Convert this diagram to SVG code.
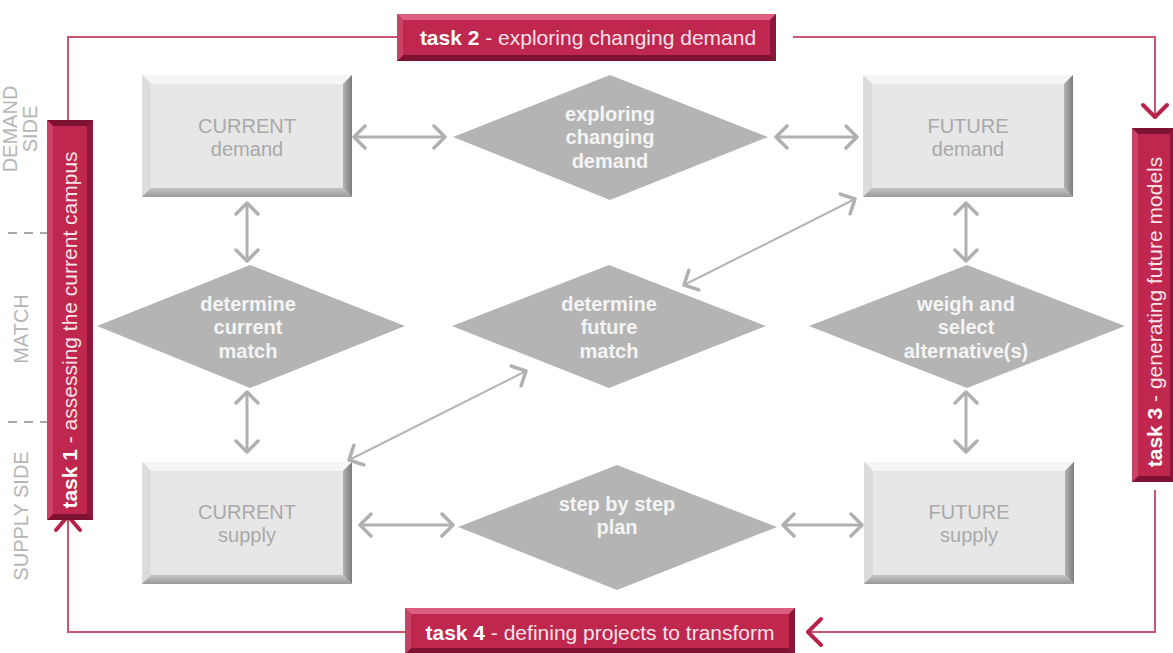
<svg xmlns="http://www.w3.org/2000/svg" xmlns:xlink="http://www.w3.org/1999/xlink" width="1173" height="653" viewBox="0 0 1173 653">
  <style>
    .lbl { font-family: "Liberation Sans", Arial, sans-serif; }
    .side { font-size: 20px; fill: #b5b5b5; }
    .boxtxt { font-size: 20px; fill: #a9a9a9; text-anchor: middle; }
    .dtxt { font-size: 20px; font-weight: bold; fill: #f4f4f4; text-anchor: middle; }
    .ttxt { font-size: 21px; fill: #f6e3e8; text-anchor: middle; }
    .ttxt tspan.b { font-weight: bold; fill: #ffffff; }
    .diamond { fill: #b4b4b4; }
    .garrow { fill: none; stroke: #b0b0b0; stroke-width: 3; marker-start: url(#gh); marker-end: url(#gh); }
    .gthin { fill: none; stroke: #b4b4b4; stroke-width: 2; marker-start: url(#gh); marker-end: url(#gh); }
    .rline { fill: none; stroke: #c9566f; stroke-width: 2; }
    .rhead { fill: none; stroke: #b8234a; stroke-width: 4; stroke-linecap: round; stroke-linejoin: round; }
    .dash { stroke: #a8a8a8; stroke-width: 2; stroke-dasharray: 9 7; }
    .bt { fill: #dc5f80; }
    .bb { fill: #7e1232; }
    .bl { fill: #c94366; }
    .br { fill: #8d1739; }
    .bf { fill: #c0274f; }
  </style>
  <defs>
    <linearGradient id="rgrad" x1="0" y1="0" x2="1" y2="0">
      <stop offset="0" stop-color="#b4b4b4"/>
      <stop offset="1" stop-color="#7c7c7c"/>
    </linearGradient>
    <linearGradient id="bgrad" x1="0" y1="0" x2="0" y2="1">
      <stop offset="0" stop-color="#c4c4c4"/>
      <stop offset="1" stop-color="#9a9a9a"/>
    </linearGradient>
    <!-- bevelled grey block, 210 x 122 -->
    <g id="bevelBox">
      <rect x="0" y="0" width="210" height="122" fill="#cfcfcf"/>
      <polygon points="0,0 210,0 201,9 9,9" fill="#f5f5f5"/>
      <polygon points="0,0 9,9 9,113 0,122" fill="#dcdcdc"/>
      <polygon points="210,0 210,122 201,113 201,9" fill="url(#rgrad)"/>
      <polygon points="0,122 210,122 201,113 9,113" fill="url(#bgrad)"/>
      <rect x="9" y="9" width="192" height="104" fill="#e7e7e7"/>
    </g>
    <marker id="gh" viewBox="0 0 16 26" refX="13" refY="13" markerWidth="16" markerHeight="26" markerUnits="userSpaceOnUse" orient="auto-start-reverse">
      <path d="M2,2 L13,13 L2,24" fill="none" stroke="#b0b0b0" stroke-width="3.5" stroke-linecap="round" stroke-linejoin="round"/>
    </marker>
  </defs>

  <rect x="0" y="0" width="1173" height="653" fill="#ffffff"/>

  <!-- row labels on the left edge -->
  <g id="row-labels" class="lbl">
    <text class="side" transform="translate(17,129) rotate(-90)" text-anchor="middle" font-size="19">DEMAND</text>
    <text class="side" transform="translate(37,129) rotate(-90)" text-anchor="middle" font-size="19">SIDE</text>
    <text class="side" transform="translate(28,329) rotate(-90)" text-anchor="middle">MATCH</text>
    <text class="side" transform="translate(28,516) rotate(-90)" text-anchor="middle">SUPPLY SIDE</text>
    <line class="dash" x1="8" y1="233" x2="47" y2="233"/>
    <line class="dash" x1="8" y1="422" x2="47" y2="422"/>
  </g>

  <!-- task cycle lines -->
  <g id="task-cycle">
    <path class="rline" d="M68,120 V37 H397"/>
    <path class="rline" d="M793,37 H1155 V114"/>
    <polyline class="rhead" points="1143,105 1155,117 1167,105"/>
    <path class="rline" d="M1155,490 V632 H809"/>
    <polyline class="rhead" points="821,619 808,632 821,645"/>
    <path class="rline" d="M405,632 H68 V520"/>
    <polyline class="rhead" points="56,530 68,516 80,530"/>
  </g>

  <!-- connectors between blocks -->
  <g id="connectors">
    <line class="garrow" x1="354" y1="137" x2="445" y2="137"/>
    <line class="garrow" x1="776" y1="137" x2="857" y2="137"/>
    <line class="garrow" x1="247" y1="203" x2="247" y2="261"/>
    <line class="garrow" x1="247" y1="392" x2="247" y2="452"/>
    <line class="garrow" x1="966" y1="203" x2="966" y2="261"/>
    <line class="garrow" x1="966" y1="392" x2="966" y2="452"/>
    <line class="garrow" x1="360" y1="525" x2="453" y2="525"/>
    <line class="garrow" x1="783" y1="525" x2="862" y2="525"/>
    <line class="gthin" x1="684" y1="285" x2="855" y2="199"/>
    <line class="gthin" x1="349" y1="460" x2="526" y2="371"/>
  </g>

  <!-- blocks -->
  <g id="current-demand" class="lbl">
    <use xlink:href="#bevelBox" x="142" y="75"/>
    <text class="boxtxt" x="247" y="133">CURRENT</text>
    <text class="boxtxt" x="247" y="156">demand</text>
  </g>
  <g id="future-demand" class="lbl">
    <use xlink:href="#bevelBox" x="863" y="75"/>
    <text class="boxtxt" x="968" y="133">FUTURE</text>
    <text class="boxtxt" x="968" y="156">demand</text>
  </g>
  <g id="current-supply" class="lbl">
    <use xlink:href="#bevelBox" x="142" y="462"/>
    <text class="boxtxt" x="247" y="519">CURRENT</text>
    <text class="boxtxt" x="247" y="542">supply</text>
  </g>
  <g id="future-supply" class="lbl">
    <use xlink:href="#bevelBox" x="864" y="462"/>
    <text class="boxtxt" x="969" y="519">FUTURE</text>
    <text class="boxtxt" x="969" y="542">supply</text>
  </g>

  <!-- decision diamonds -->
  <g id="exploring-changing-demand" class="lbl">
    <polygon class="diamond" points="453,137 610,75 768,137 610,200"/>
    <text class="dtxt" x="610" y="121">exploring</text>
    <text class="dtxt" x="610" y="144">changing</text>
    <text class="dtxt" x="610" y="168">demand</text>
  </g>
  <g id="determine-current-match" class="lbl">
    <polygon class="diamond" points="97,326 250,265 405,326 250,388"/>
    <text class="dtxt" x="248" y="311">determine</text>
    <text class="dtxt" x="248" y="334">current</text>
    <text class="dtxt" x="248" y="358">match</text>
  </g>
  <g id="determine-future-match" class="lbl">
    <polygon class="diamond" points="452,326 609,265 766,326 609,388"/>
    <text class="dtxt" x="609" y="311">determine</text>
    <text class="dtxt" x="609" y="334">future</text>
    <text class="dtxt" x="609" y="358">match</text>
  </g>
  <g id="weigh-and-select" class="lbl">
    <polygon class="diamond" points="809,326 967,265 1125,326 967,388"/>
    <text class="dtxt" x="966" y="311">weigh and</text>
    <text class="dtxt" x="966" y="334">select</text>
    <text class="dtxt" x="966" y="358">alternative(s)</text>
  </g>
  <g id="step-by-step-plan" class="lbl">
    <polygon class="diamond" points="458,527 617,465 777,527 617,590"/>
    <text class="dtxt" x="617" y="511">step by step</text>
    <text class="dtxt" x="617" y="534">plan</text>
  </g>

  <!-- task banners -->
  <g id="task-1" class="lbl">
    <rect x="47" y="120" width="46" height="400" class="bf"/>
    <polygon class="bb" points="47,120 93,120 87,126 53,126"/>
    <polygon class="bb" points="47,520 93,520 87,514 53,514"/>
    <polygon class="bl" points="47,120 53,126 53,514 47,520"/>
    <polygon class="br" points="93,120 93,520 87,514 87,126"/>
    <text class="ttxt" transform="translate(77,330) rotate(-90)"><tspan class="b">task 1</tspan> - assessing the current campus</text>
  </g>
  <g id="task-2" class="lbl">
    <rect x="397" y="14" width="379" height="47" class="bf"/>
    <polygon class="bt" points="397,14 776,14 770,20 403,20"/>
    <polygon class="bb" points="397,61 776,61 770,55 403,55"/>
    <polygon class="bl" points="397,14 403,20 403,55 397,61"/>
    <polygon class="br" points="776,14 776,61 770,55 770,20"/>
    <text class="ttxt" x="588" y="45"><tspan class="b">task 2</tspan> - exploring changing demand</text>
  </g>
  <g id="task-3" class="lbl">
    <rect x="1132" y="128" width="44" height="354" class="bf"/>
    <polygon class="bb" points="1132,128 1176,128 1170,134 1138,134"/>
    <polygon class="bb" points="1132,482 1176,482 1170,476 1138,476"/>
    <polygon class="bl" points="1132,128 1138,134 1138,476 1132,482"/>
    <polygon class="br" points="1176,128 1176,482 1170,476 1170,134"/>
    <text class="ttxt" transform="translate(1162,312) rotate(-90)"><tspan class="b">task 3</tspan> - generating future models</text>
  </g>
  <g id="task-4" class="lbl">
    <rect x="405" y="608" width="390" height="46" class="bf"/>
    <polygon class="bt" points="405,608 795,608 789,614 411,614"/>
    <polygon class="bb" points="405,654 795,654 789,648 411,648"/>
    <polygon class="bl" points="405,608 411,614 411,648 405,654"/>
    <polygon class="br" points="795,608 795,654 789,648 789,614"/>
    <text class="ttxt" x="600" y="640"><tspan class="b">task 4</tspan> - defining projects to transform</text>
  </g>
</svg>
